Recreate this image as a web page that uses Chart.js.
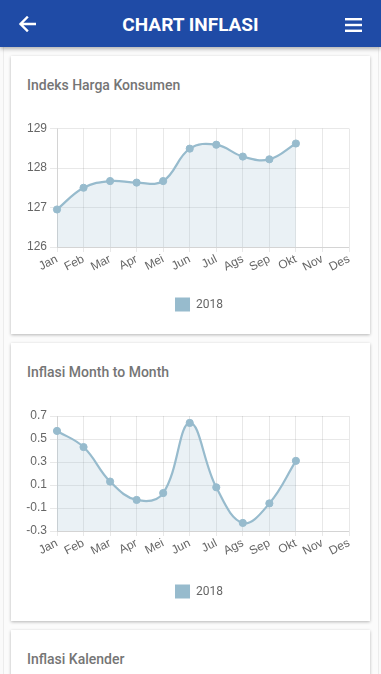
<!DOCTYPE html>
<html>
<head>
<meta charset="utf-8">
<script src="https://cdn.jsdelivr.net/npm/chart.js@4.4.1/dist/chart.umd.min.js"></script>
<style>
  html, body { margin: 0; padding: 0; }
  body { width: 381px; height: 674px; overflow: hidden; background: #fafafa; font-family: Roboto, "Noto Sans", sans-serif; position: relative; }
  .frame { position: absolute; left: 3px; top: 0; width: 374px; height: 674px; border-left: 1px solid #ececec; border-right: 1px solid #ececec; background: #fbfbfb; }
  .header { position: absolute; left: 0; top: 0; width: 381px; height: 47px; background: #1f4ba6; box-shadow: 0 2px 4px rgba(0,0,0,0.3); z-index: 5; }
  .header h1 { margin: 0; position: absolute; left: 0; right: 0; top: 13px; text-align: center; color: #fff; font-size: 19px; font-weight: 700; line-height: 24px; font-family: Roboto, sans-serif; }
  .header svg { position: absolute; }
  .card { position: absolute; left: 11px; width: 359px; height: 278px; background: #fff; box-shadow: 0 1px 3px rgba(0,0,0,0.28); }
  .card .title { position: absolute; left: 16px; top: 21px; font-size: 14px; font-weight: 500; color: #757575; line-height: 16px; }
  .card canvas { position: absolute; left: 8px; top: 50px; }
</style>
</head>
<body>
<div class="frame"></div>
<div class="header">
  <svg style="left:18px;top:16px" width="18" height="16" viewBox="0 0 18 16">
    <path d="M17 8 H3 M9 1.5 L2.5 8 L9 14.5" stroke="#fff" stroke-width="2.4" fill="none" stroke-linecap="square"/>
  </svg>
  <h1>CHART INFLASI</h1>
  <svg style="left:345px;top:18px" width="17" height="14" viewBox="0 0 17 14">
    <rect x="0" y="0" width="17" height="2.4" fill="#fff"/>
    <rect x="0" y="5.8" width="17" height="2.4" fill="#fff"/>
    <rect x="0" y="11.6" width="17" height="2.4" fill="#fff"/>
  </svg>
</div>

<div class="card" style="top:56px"><div class="title">Indeks Harga Konsumen</div><canvas id="c1" width="343" height="224"></canvas></div>
<div class="card" style="top:343px"><div class="title">Inflasi Month to Month</div><canvas id="c2" width="343" height="224"></canvas></div>
<div class="card" style="top:630px"><div class="title">Inflasi Kalender</div></div>

<script>
const months = ['Jan','Feb','Mar','Apr','Mei','Jun','Jul','Ags','Sep','Okt','Nov','Des'];
const seriesLabel = '2018';
const ihk2018 = [126.95, 127.50, 127.67, 127.63, 127.67, 128.49, 128.59, 128.29, 128.22, 128.62, null, null];
const mtm2018 = [0.57, 0.43, 0.13, -0.03, 0.03, 0.64, 0.08, -0.23, -0.06, 0.31, null, null];
const ihkTicks = { min: 126, max: 129, step: 1 };
const mtmTicks = { min: -0.3, max: 0.7, step: 0.2 };

const lineColor = 'rgba(151,187,205,1)';
const fillColor = 'rgba(151,187,205,0.2)';
const gridColor = 'rgba(0,0,0,0.09)';
const tickFont = { family: "'Liberation Sans', Arial, sans-serif", size: 12 };

const legendShift = {
  id: 'legendShift',
  afterLayout(chart) {
    const l = chart.legend;
    if (l) { l.left += 15; l.right += 15; }
  }
};

function makeChart(id, values, t, decimals, padTop, xHeight) {
  return new Chart(document.getElementById(id), {
    type: 'line',
    plugins: [legendShift],
    data: {
      labels: months,
      datasets: [{
        label: seriesLabel,
        data: values,
        borderColor: lineColor,
        backgroundColor: fillColor,
        pointBackgroundColor: lineColor,
        pointBorderColor: lineColor,
        pointRadius: 3.6,
        pointBorderWidth: 1,
        borderWidth: 2.2,
        tension: 0.4,
        fill: 'start'
      }]
    },
    options: {
      responsive: false,
      animation: false,
      devicePixelRatio: 1,
      layout: { padding: { top: padTop, left: 0, right: 13, bottom: 8.5 } },
      plugins: {
        tooltip: { enabled: false },
        legend: {
          position: 'bottom',
          labels: {
            boxWidth: 15, boxHeight: 14, color: '#666', padding: 10,
            font: { family: 'Roboto', size: 12 },
            generateLabels: (chart) => chart.data.datasets.map((ds, i) => ({
              text: ds.label, fillStyle: lineColor, strokeStyle: lineColor,
              lineWidth: 0, hidden: false, datasetIndex: i, fontColor: '#666'
            }))
          }
        }
      },
      scales: {
        x: {
          afterFit: (axis) => { axis.height = xHeight; },
          grid: { color: gridColor, tickLength: 5 },
          border: { color: gridColor },
          ticks: {
            color: '#666', font: tickFont,
            minRotation: 27, maxRotation: 27, autoSkip: false, padding: 0
          }
        },
        y: {
          min: t.min, max: t.max,
          afterFit: (axis) => { axis.width = 38; },
          grid: { color: gridColor, tickLength: 7 },
          border: { color: gridColor },
          ticks: {
            stepSize: t.step, color: '#666', padding: 3, font: tickFont,
            callback: v => Number(v).toFixed(decimals)
          }
        }
      }
    }
  });
}

makeChart('c1', ihk2018, ihkTicks, 0, 22.5, 40.5);
makeChart('c2', mtm2018, mtmTicks, 1, 23, 43.5);
</script>
</body>
</html>
